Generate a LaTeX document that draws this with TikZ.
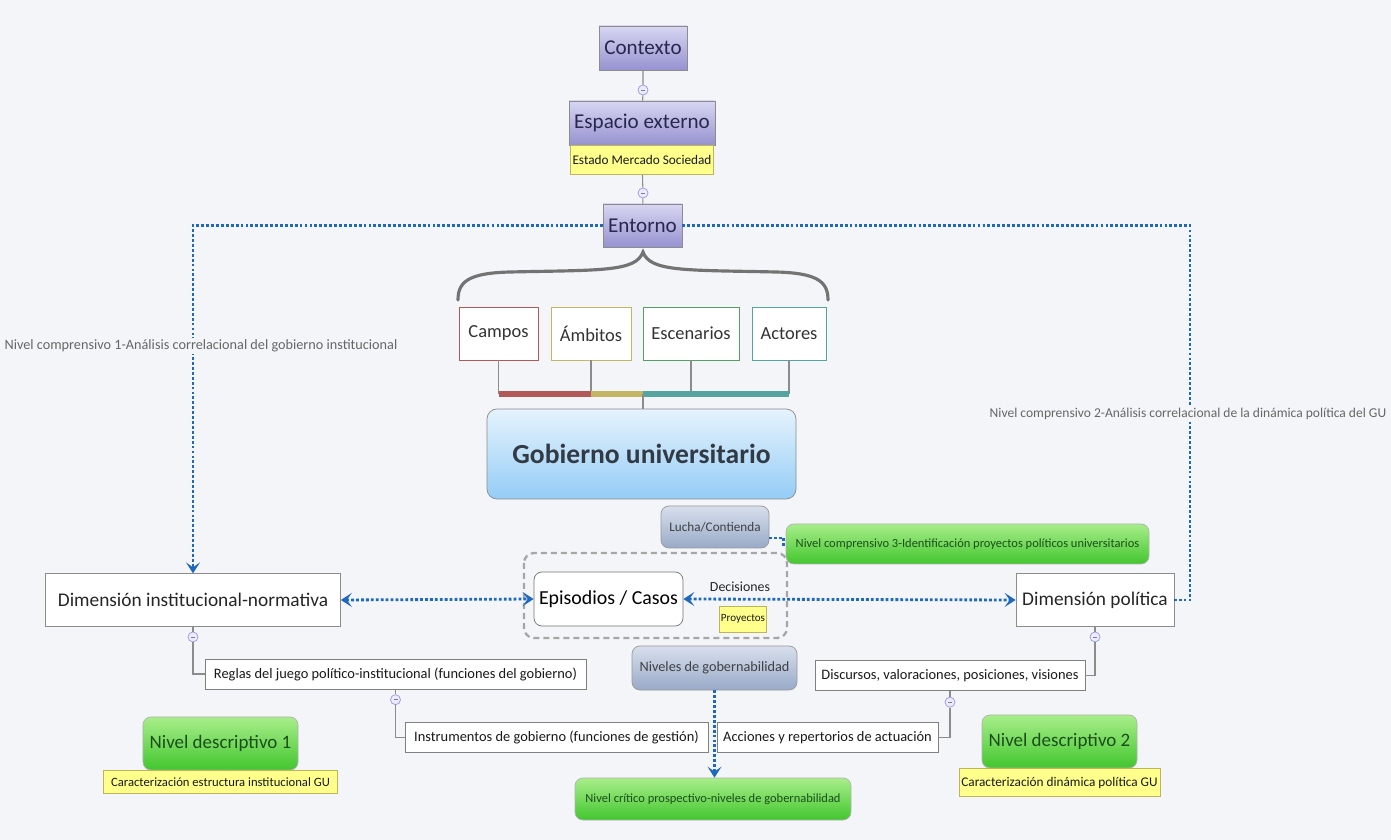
\documentclass[tikz,border=0pt]{standalone}
\usepackage{fontspec}
\setmainfont{Carlito}
\usetikzlibrary{
    arrows.meta,
    positioning,
    calc
}

\definecolor{bgpage}{RGB}{244,245,249}
\definecolor{lavtop}{RGB}{216,214,242}
\definecolor{lavbot}{RGB}{150,146,208}
\definecolor{navytext}{RGB}{40,40,78}
\definecolor{notefill}{RGB}{255,255,140}
\definecolor{notedraw}{RGB}{190,180,90}
\definecolor{greentop}{RGB}{168,238,138}
\definecolor{greenbot}{RGB}{66,198,46}
\definecolor{goaltext}{RGB}{28,78,28}
\definecolor{skytop}{RGB}{230,243,253}
\definecolor{skybot}{RGB}{148,204,246}
\definecolor{hubtext}{RGB}{50,58,68}
\definecolor{slatetop}{RGB}{216,223,236}
\definecolor{slatebot}{RGB}{152,170,200}
\definecolor{linkblue}{RGB}{30,105,190}
\definecolor{stemgray}{RGB}{140,140,140}
\definecolor{camposred}{RGB}{178,88,88}
\definecolor{ambitosolive}{RGB}{196,182,100}
\definecolor{escgreen}{RGB}{84,160,100}
\definecolor{actteal}{RGB}{86,164,160}

\begin{document}
\begin{tikzpicture}[
        x=0.2mm, y=-0.2mm,
        every node/.style={inner sep=1pt, align=center},
        topic/.style={
            rectangle,
            draw=black!45,
            top color=lavtop,
            bottom color=lavbot,
            text=navytext,
            minimum height=8.8mm,
            font={\fontsize{12}{14}\selectfont}
        },
        note/.style={
            rectangle,
            draw=notedraw,
            fill=notefill,
            text=black!90,
            font={\fontsize{7.55}{9}\selectfont}
        },
        knob/.style={
            circle,
            draw=black!30!blue!40,
            fill=blue!8,
            minimum size=2mm,
            inner sep=0pt,
            path picture={\draw[black!50,line width=0.3pt]
                ([xshift=-0.4mm]path picture bounding box.center) --
                ([xshift=0.4mm]path picture bounding box.center);}
        },
        facet/.style={
            rectangle,
            fill=white,
            line width=0.5pt,
            minimum height=10.6mm,
            text=black!80,
            font={\fontsize{10.5}{12}\selectfont}
        },
        hub/.style={
            rectangle,
            rounded corners=2mm,
            draw=black!45,
            top color=skytop,
            bottom color=skybot,
            text=hubtext,
            minimum width=61.8mm,
            minimum height=18mm,
            font={\fontsize{15.7}{18}\selectfont\bfseries}
        },
        slate/.style={
            rectangle,
            rounded corners=1.6mm,
            draw=black!40,
            top color=slatetop,
            bottom color=slatebot,
            text=black!75,
            font={\fontsize{7.5}{9}\selectfont}
        },
        goal/.style={
            rectangle,
            rounded corners=1.6mm,
            draw=black!30,
            top color=greentop,
            bottom color=greenbot,
            text=goaltext
        },
        dimbox/.style={
            rectangle,
            draw=black!45,
            fill=white,
            minimum height=10.5mm,
            text=black!85,
            font={\fontsize{11}{13}\selectfont}
        },
        leaf/.style={
            rectangle,
            draw=black!50,
            fill=white,
            minimum height=6mm,
            text=black!90,
            font={\fontsize{8.2}{10}\selectfont}
        },
        remark/.style={
            fill=bgpage,
            text=black!60,
            font={\fontsize{8.1}{10}\selectfont}
        },
        stem/.style={draw=stemgray, line width=0.6pt},
        brace/.style={draw=black!55, line width=1.8pt, line cap=round},
        bar/.style={line width=1.2mm},
        link/.style={draw=linkblue, line width=1.6pt, dash pattern=on 1.6pt off 1.2pt},
        flow/.style={link, -{Stealth[length=2.2mm,width=2.8mm,inset=1mm]}},
        twoway/.style={link,
            {Stealth[length=2.2mm,width=2.8mm,inset=1mm]}-{Stealth[length=2.2mm,width=2.8mm,inset=1mm]}},
        group/.style={draw=black!35, line width=1.3pt, dash pattern=on 1.2mm off 0.8mm, rounded corners=2mm}
    ]
        \fill[bgpage] (0,0) rectangle (1391,840);
        \useasboundingbox (0,0) rectangle (1391,840);

        % Context chain
        \node[topic, minimum width=17.6mm] (contexto) at (643,48) {Contexto};
        \node[knob] (knobA) at (643,90) {};
        \node[topic, minimum width=29.2mm] (espacio) at (642,123) {Espacio externo};
        \node[note, minimum width=28.4mm, minimum height=5.8mm, below=0pt of espacio] (estado)
            {Estado Mercado Sociedad};
        \node[knob] (knobB) at (643,193) {};
        \node[topic, minimum width=15.8mm, minimum height=8.6mm] (entorno) at (642.5,225.5) {Entorno};

        \draw[stem] (contexto) -- (knobA) -- (espacio);
        \draw[stem] (estado) -- (knobB) -- (entorno);

        % Brace
        \draw[brace] (458,300) .. controls (458,282) and (468,273) .. (510,272)
            .. controls (600,270) and (636,272) .. (643,252)
            .. controls (650,272) and (686,270) .. (776,272)
            .. controls (818,273) and (828,282) .. (828,300);

        % Facets and colour bar
        \node[facet, draw=camposred, minimum width=15.8mm] (campos) at (498.5,333.5) {Campos};
        \node[facet, draw=ambitosolive, minimum width=16mm] (ambitos) at (591,333.5) {Ámbitos};
        \node[facet, draw=escgreen, minimum width=19.2mm] (escenarios) at (691,333.5) {Escenarios};
        \node[facet, draw=actteal, minimum width=14.8mm] (actores) at (789,333.5) {Actores};

        \coordinate (barmid) at (643,394);
        \foreach \f in {campos,ambitos,escenarios,actores}
            \draw[stem] (\f.south) -- (\f.south |- barmid);
        \draw[bar, camposred] (campos.south |- barmid) -- (ambitos.south |- barmid);
        \draw[bar, ambitosolive] (ambitos.south |- barmid) -- (barmid);
        \draw[bar, actteal] (barmid) -- (actores.south |- barmid);

        \node[hub] (gobierno) at (641.5,454) {Gobierno universitario};
        \draw[stem] (barmid) -- (barmid |- gobierno.north);

        % Episodes group
        \draw[group] (524,553) rectangle (787,638);
        \node[slate, minimum width=21.6mm, minimum height=8.4mm] (lucha) at (715,527) {Lucha/Contienda};
        \node[goal, minimum width=72.6mm, minimum height=8mm, font={\fontsize{7.1}{9}\selectfont}] (nc3)
            at (967.5,544) {Nivel comprensivo 3-Identificación proyectos políticos universitarios};
        \node[rectangle, rounded corners=1.6mm, draw=black!55, fill=white, minimum width=29.8mm,
            minimum height=10.8mm, font={\fontsize{11.3}{13}\selectfont}] (episodios)
            at (608.5,599) {Episodios / Casos};
        \node[font={\fontsize{7.9}{9}\selectfont}, text=black!85] (decisiones) at (740,587) {Decisiones};
        \node[note, minimum width=9mm, minimum height=5.2mm, font={\fontsize{6.3}{8}\selectfont}] (proyectos)
            at (743,619) {Proyectos};

        % Dimensions
        \node[dimbox, minimum width=59mm] (diminst) at (193,600) {Dimensión institucional-normativa};
        \node[dimbox, minimum width=31.6mm] (dimpol) at (1095,600) {Dimensión política};
        \node[knob, below=1mm of diminst] (knobC) {};
        \node[knob, below=1mm of dimpol] (knobE) {};

        \node[leaf, minimum width=76.2mm] (reglas) at (395.5,674)
            {Reglas del juego político-institucional (funciones del gobierno)};
        \node[knob, below=1mm of reglas] (knobD) {};
        \node[leaf, minimum width=60.6mm] (instrumentos) at (556.5,737.5)
            {Instrumentos de gobierno (funciones de gestión)};
        \node[leaf, minimum width=44.2mm] (acciones) at (827.5,737.5) {Acciones y repertorios de actuación};
        \node[leaf, minimum width=54mm] (discursos) at (950,675.5) {Discursos, valoraciones, posiciones, visiones};
        \node[knob, below=1.2mm of discursos] (knobF) {};

        \draw[stem] (diminst) -- (knobC);
        \draw[stem] (knobC) |- (reglas.west);
        \draw[stem] (reglas) -- (knobD);
        \draw[stem] (knobD) |- (instrumentos.west);
        \draw[stem] (dimpol) -- (knobE);
        \draw[stem] (knobE) |- (discursos.east);
        \draw[stem] (discursos) -- (knobF);
        \draw[stem] (knobF) |- (acciones.east);

        % Governability
        \node[slate, minimum width=33mm, minimum height=8.8mm, font={\fontsize{8.1}{10}\selectfont}] (niveles)
            at (714.5,668) {Niveles de gobernabilidad};
        \node[goal, minimum width=55.2mm, minimum height=8.4mm, font={\fontsize{7.1}{9}\selectfont}] (critico)
            at (713,799) {Nivel crítico prospectivo-niveles de gobernabilidad};

        % Descriptive levels
        \node[goal, minimum width=31mm, minimum height=10.6mm, font={\fontsize{10.8}{13}\selectfont}] (desc1)
            at (220.5,743.5) {Nivel descriptivo 1};
        \node[note, minimum width=46.8mm, minimum height=4.6mm, below=0pt of desc1,
            font={\fontsize{7.2}{9}\selectfont}] (carac1)
            {Caracterización estructura institucional GU};
        \node[goal, minimum width=31mm, minimum height=10.6mm, font={\fontsize{10.8}{13}\selectfont}] (desc2)
            at (1059.5,741.5) {Nivel descriptivo 2};
        \node[note, minimum width=40.2mm, minimum height=5.6mm, below=0pt of desc2] (carac2)
            {Caracterización dinámica política GU};

        % Blue links
        \coordinate (rightturn) at (1190,600);
        \draw[flow] (entorno.west) -| (diminst.north);
        \draw[link] (entorno.east) -| (rightturn) -- (dimpol.east);
        \draw[twoway] (diminst.east) -- (episodios.west);
        \draw[twoway] (episodios.east) -- (dimpol.west);
        \draw[link] ([yshift=-2.2mm]lucha.east) -| ([xshift=-0.4mm,yshift=-0.4mm]nc3.west);
        \draw[flow] (niveles.south) -- (niveles.south |- critico.north);

        \node[remark] (nc1) at (201,346)
            {Nivel comprensivo 1-Análisis correlacional del gobierno institucional};
        \node[remark, font={\fontsize{7.7}{9}\selectfont}] (nc2) at (1188,414)
            {Nivel comprensivo 2-Análisis correlacional de la dinámica política del GU};
    \end{tikzpicture}
\end{document}
